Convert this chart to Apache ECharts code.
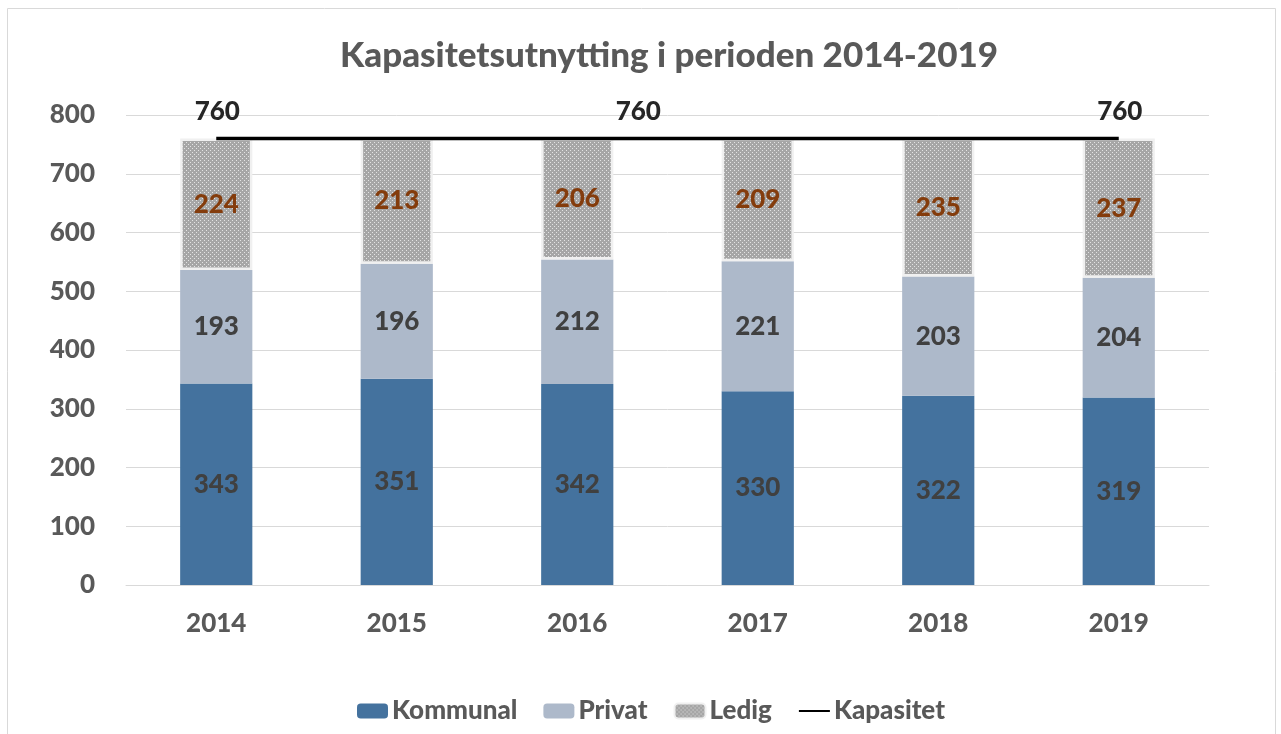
<!DOCTYPE html>
<html>
<head>
<meta charset="utf-8">
<script src="https://cdn.jsdelivr.net/npm/echarts@6/dist/echarts.min.js"></script>
<style>
  html, body { margin: 0; padding: 0; background: #fff; }
  #chart { width: 1281px; height: 734px; }
</style>
</head>
<body>
<div id="chart"></div>
<script>
// data
const years = ["2014", "2015", "2016", "2017", "2018", "2019"];
const kommunal = [343, 351, 342, 330, 322, 319];
const privat = [193, 196, 212, 221, 203, 204];
const ledig = [224, 213, 206, 209, 235, 237];
const kapasitet = [760, 760, 760, 760, 760, 760];
const yTicks = { min: 0, max: 800, interval: 100 };

const fontFamily = "Lato, 'Open Sans', sans-serif";
const weight = 900;

// dotted fill for "Ledig"
function dotPattern() {
  const c = document.createElement("canvas");
  c.width = 4;
  c.height = 4;
  const ctx = c.getContext("2d");
  ctx.fillStyle = "#a6a6a6";
  ctx.fillRect(0, 0, 4, 4);
  ctx.fillStyle = "#e4e4e4";
  ctx.fillRect(0, 0, 1, 1);
  ctx.fillRect(2, 2, 1, 1);
  return c;
}

const chart = echarts.init(document.getElementById("chart"));

const segLabel = color => ({
  show: true,
  position: "inside",
  color: color,
  fontSize: 26,
  fontWeight: weight,
  fontFamily: fontFamily
});

const capLabel = (offsetX) => ({
  show: true,
  offset: [offsetX, -27],
  color: "#262626",
  fontSize: 26,
  fontWeight: weight,
  fontFamily: fontFamily
});

const option = {
  animation: false,
  graphic: [
    {
      type: "rect",
      shape: { x: 7.5, y: 8.5, width: 1268, height: 740 },
      style: { fill: "none", stroke: "#d9d9d9", lineWidth: 1 },
      silent: true
    }
  ],
  title: {
    text: "Kapasitetsutnytting i perioden 2014-2019",
    left: 664,
    textAlign: "center",
    top: 33,
    textStyle: {
      color: "#595959",
      fontSize: 35,
      fontWeight: weight,
      fontFamily: fontFamily
    }
  },
  legend: {
    bottom: 5,
    left: 352,
    padding: 5,
    itemWidth: 31,
    itemHeight: 15,
    itemGap: 26,
    textStyle: {
      color: "#595959",
      fontSize: 26,
      fontWeight: weight,
      fontFamily: fontFamily,
      padding: [0, 0, 0, -1]
    },
    data: ["Kommunal", "Privat", "Ledig", "Kapasitet"]
  },
  grid: {
    left: 126,
    right: 72,
    top: 115,
    bottom: 149
  },
  xAxis: {
    type: "category",
    data: years,
    axisTick: { show: false },
    axisLine: { lineStyle: { color: "#d9d9d9", width: 1 } },
    axisLabel: {
      color: "#595959",
      fontSize: 26,
      fontWeight: weight,
      fontFamily: fontFamily,
      margin: 26
    }
  },
  yAxis: {
    type: "value",
    min: yTicks.min,
    max: yTicks.max,
    interval: yTicks.interval,
    axisLine: { show: false },
    axisTick: { show: false },
    splitLine: { lineStyle: { color: "#d9d9d9", width: 1 } },
    axisLabel: {
      color: "#595959",
      fontSize: 26,
      fontWeight: weight,
      fontFamily: fontFamily,
      margin: 31
    }
  },
  series: [
    {
      name: "Kommunal",
      type: "bar",
      stack: "total",
      barWidth: "40%",
      itemStyle: { color: "#44729e" },
      label: segLabel("#404040"),
      data: kommunal
    },
    {
      name: "Privat",
      type: "bar",
      stack: "total",
      itemStyle: { color: "#adb9ca" },
      label: segLabel("#404040"),
      data: privat
    },
    {
      name: "Ledig",
      type: "bar",
      stack: "total",
      itemStyle: {
        color: { image: dotPattern(), repeat: "repeat" },
        borderColor: "#f0f0f0",
        borderWidth: 2.5
      },
      label: segLabel("#843c0c"),
      data: ledig
    },
    {
      name: "Kapasitet",
      type: "line",
      symbol: "circle",
      showSymbol: false,
      z: 5,
      lineStyle: { color: "#000000", width: 3.5 },
      // transparent so the legend shows only the line
      itemStyle: { color: "rgba(0,0,0,0)" },
      markPoint: {
        symbol: "circle",
        symbolSize: 0,
        data: [
          { coord: [years[0], kapasitet[0]], value: kapasitet[0], label: capLabel(1) },
          { coord: [years[2], kapasitet[2]], value: kapasitet[2], label: capLabel(61) },
          { coord: [years[5], kapasitet[5]], value: kapasitet[5], label: capLabel(1) }
        ]
      },
      data: kapasitet
    }
  ]
};

chart.setOption(option);
</script>
</body>
</html>
